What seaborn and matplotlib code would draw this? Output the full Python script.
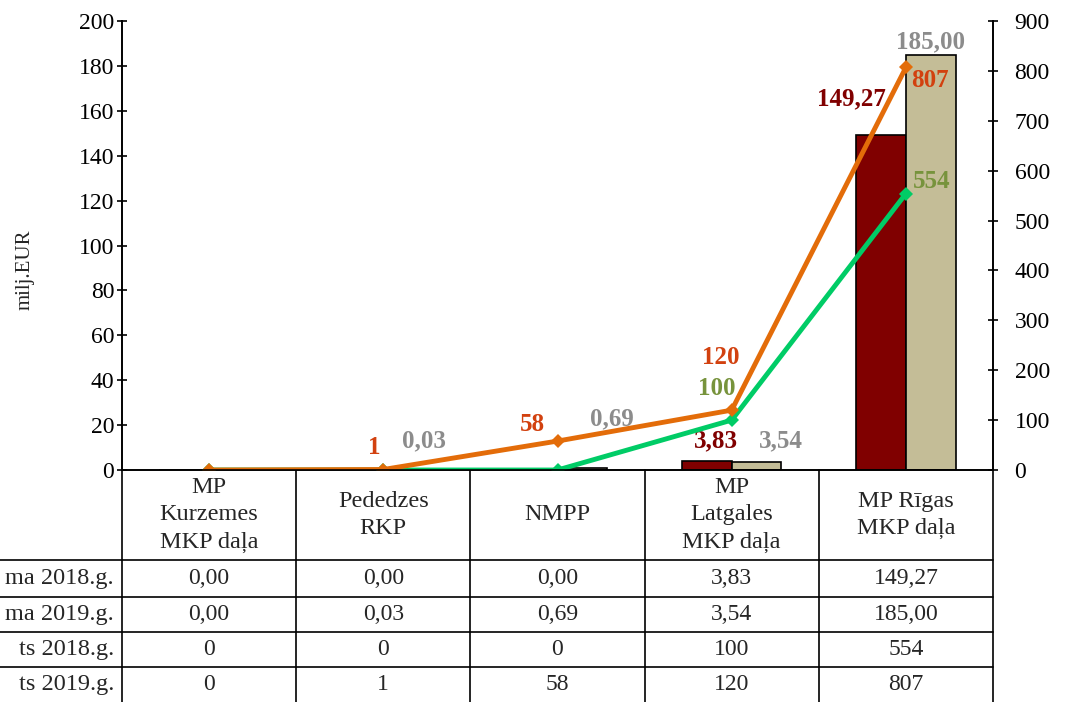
import pandas as pd
import numpy as np
import matplotlib
matplotlib.use("Agg")
import matplotlib.pyplot as plt
import seaborn as sns

categories = ["MP\nKurzemes\nMKP daļa", "Pededzes\nRKP", "NMPP", "MP\nLatgales\nMKP daļa", "MP Rīgas\nMKP daļa"]
years = ["2018", "2019"]
funds_2018 = [0.00, 0.00, 0.00, 3.83, 149.27]
funds_2019 = [0.00, 0.03, 0.69, 3.54, 185.00]
count_2018 = [0, 0, 0, 100, 554]
count_2019 = [0, 1, 58, 120, 807]
# row labels are cut at the left edge in the source image; only the visible part is kept
row_labels = ["ma 2018.g.", "ma 2019.g.", "ts 2018.g.", "ts 2019.g."]

bar_colors = {"2018": "#800000", "2019": "#c4bd97"}
line_colors = {"2018": "#00cc66", "2019": "#e36c09"}

sns.set_theme(style="white")
plt.rcParams["font.family"] = ["Liberation Serif", "DejaVu Serif"]

bars_df = pd.DataFrame({
    "cat": categories * 2,
    "val": funds_2018 + funds_2019,
    "year": ["2018"] * 5 + ["2019"] * 5,
})
lines_df = pd.DataFrame({
    "pos": list(range(5)) * 2,
    "val": count_2018 + count_2019,
    "year": ["2018"] * 5 + ["2019"] * 5,
})

fig = plt.figure(figsize=(10.66, 7.02), dpi=100)
ax = fig.add_axes([122 / 1066, (702 - 470) / 702, (993 - 122) / 1066, (470 - 21) / 702])

sns.barplot(data=bars_df, x="cat", y="val", hue="year", hue_order=years,
            palette=bar_colors, width=0.57, gap=0, edgecolor="black",
            linewidth=1.2, saturation=1, legend=False, ax=ax)
ax.set_xlim(-0.5, 4.5)
ax.set_ylim(0, 200)
ax.set_yticks(range(0, 201, 20))
ax.set_xticks([])
ax.set_xlabel("")
ax.set_ylabel("")
ax.tick_params(axis="y", direction="inout", length=7, width=1.2, pad=2,
               labelsize=17, colors="black", left=True)

ax2 = ax.twinx()
sns.lineplot(data=lines_df, x="pos", y="val", hue="year", hue_order=years,
             palette=line_colors, marker="D", markersize=7, markeredgewidth=0,
             linewidth=3.5, legend=False, ax=ax2)
ax2.set_ylim(0, 900)
ax2.set_yticks(range(0, 901, 100))
ax2.set_xlim(-0.5, 4.5)
ax2.set_xlabel("")
ax2.set_ylabel("")
ax2.tick_params(axis="y", direction="inout", length=7, width=1.2, pad=12,
                labelsize=17, colors="black", right=True)

for a in (ax, ax2):
    a.spines["top"].set_visible(False)
    for s in ("left", "right", "bottom"):
        a.spines[s].set_color("black")
        a.spines[s].set_linewidth(1.2)

fig.text(25 / 1066, 1 - 270 / 702, "milj.EUR", rotation=90, ha="center",
         va="center", fontsize=15)

# data labels (offsets in pixels from the mark)
def put(axis, x, y, text, dx, dy, color):
    axis.annotate(text, xy=(x, y), xytext=(dx, dy), textcoords="offset pixels",
                  ha="center", va="center", fontsize=18, fontweight="bold",
                  color=color, annotation_clip=False)

bw = 0.57 / 2
off18 = {3: (9, 21), 4: (-30, 36)}
off19 = {1: (16, 29), 2: (30, 50), 3: (24, 21), 4: (0, 13)}
for i, v in enumerate(funds_2018):
    if v > 0:
        put(ax, i - bw / 2, v, f"{v:.2f}".replace(".", ","), *off18[i], "#800000")
for i, v in enumerate(funds_2019):
    if v > 0:
        put(ax, i + bw / 2, v, f"{v:.2f}".replace(".", ","), *off19[i], "#8c8c8c")

loff18 = {3: (-15, 32), 4: (26, 12)}
loff19 = {1: (-9, 22), 2: (-25, 17), 3: (-11, 53), 4: (24, -13)}
for i, v in enumerate(count_2018):
    if v > 0:
        put(ax2, i, v, str(v), *loff18[i], "#77933c")
for i, v in enumerate(count_2019):
    if v > 0:
        put(ax2, i, v, str(v), *loff19[i], "#d2410f")

# data table below the axis
tr = ax.get_xaxis_transform()
row_edges = [0, -0.2004, -0.2829, -0.3608, -0.4388, -0.5167]
for k in range(6):
    ax.plot([k - 0.5, k - 0.5], [0, row_edges[-1]], transform=tr,
            color="black", lw=1.2, clip_on=False)
for y in row_edges[1:5]:
    ax.plot([-2, 4.5], [y, y], transform=tr, color="black", lw=1.2, clip_on=False)

hdr_mid = row_edges[1] / 2
for i, c in enumerate(categories):
    ax.text(i, hdr_mid, c, transform=tr, ha="center", va="center",
            fontsize=17.5, linespacing=1.38)

rows = [
    [f"{v:.2f}".replace(".", ",") for v in funds_2018],
    [f"{v:.2f}".replace(".", ",") for v in funds_2019],
    [str(v) for v in count_2018],
    [str(v) for v in count_2019],
]
for r, (label, vals) in enumerate(zip(row_labels, rows)):
    ymid = (row_edges[r + 1] + row_edges[r + 2]) / 2
    ax.annotate(label, xy=(-0.5, ymid), xycoords=tr, xytext=(-8, 0),
                textcoords="offset pixels", ha="right", va="center",
                fontsize=17.5, annotation_clip=False)
    for i, t in enumerate(vals):
        ax.text(i, ymid, t, transform=tr, ha="center", va="center", fontsize=17)

fig.savefig("out.png", dpi=100)
